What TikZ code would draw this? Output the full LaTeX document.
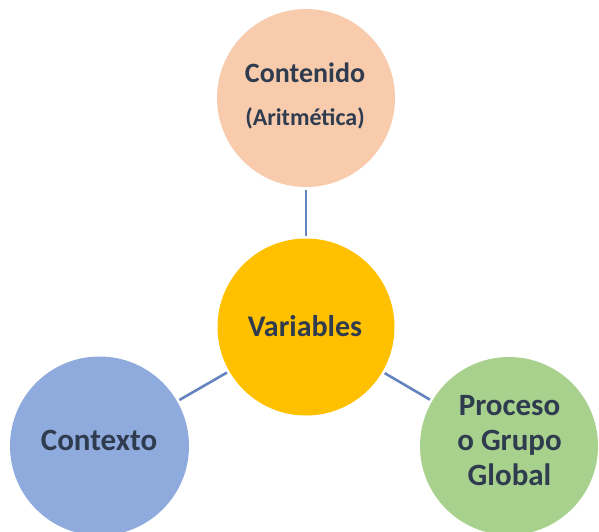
\documentclass[tikz,border=0pt]{standalone}
\usepackage{fontspec}
\setmainfont{Carlito}
\definecolor{peach}{HTML}{F8CBAD}
\definecolor{gold}{HTML}{FFC000}
\definecolor{bluec}{HTML}{8FAADC}
\definecolor{greenc}{HTML}{A9D18E}
\definecolor{linec}{HTML}{6584BF}
\definecolor{txt}{HTML}{2F3B4E}
\begin{document}
\begin{tikzpicture}[x=1pt,y=-1pt,
  bubble/.style={circle,draw=none,inner sep=0pt},
  lbl/.style={anchor=base,text=txt,font=\bfseries,inner sep=0pt},
  link/.style={draw=linec,line width=2.6pt,shorten >=2.5pt,shorten <=2.5pt}]
\useasboundingbox (0,0) rectangle (599,531);
\node[bubble,fill=peach,minimum size=178pt] (top) at (306,98) {};
\node[bubble,fill=gold,minimum size=177pt] (mid) at (306,327) {};
\node[bubble,fill=bluec,minimum size=179pt] (left) at (99.5,446) {};
\node[bubble,fill=greenc,minimum size=178pt] (right) at (509,446) {};
\draw[link] (top) -- (mid);
\draw[link] (mid) -- (left);
\draw[link] (mid) -- (right);
\node[lbl,font=\bfseries\fontsize{28}{34}\selectfont] (t1) at (305,82) {Contenido};
\node[lbl,font=\bfseries\fontsize{24}{29}\selectfont] (t2) at (305,125) {(Aritmética)};
\node[lbl,font=\bfseries\fontsize{30}{36}\selectfont] (m1) at (305,336) {Variables};
\node[lbl,font=\bfseries\fontsize{31}{37}\selectfont] (l1) at (99,450) {Contexto};
\node[lbl,font=\bfseries\fontsize{31}{37}\selectfont] (r1) at (509.5,415) {Proceso};
\node[lbl,font=\bfseries\fontsize{31}{37}\selectfont] (r2) at (509.5,450) {o Grupo};
\node[lbl,font=\bfseries\fontsize{31}{37}\selectfont] (r3) at (509.5,485) {Global};
\end{tikzpicture}
\end{document}
